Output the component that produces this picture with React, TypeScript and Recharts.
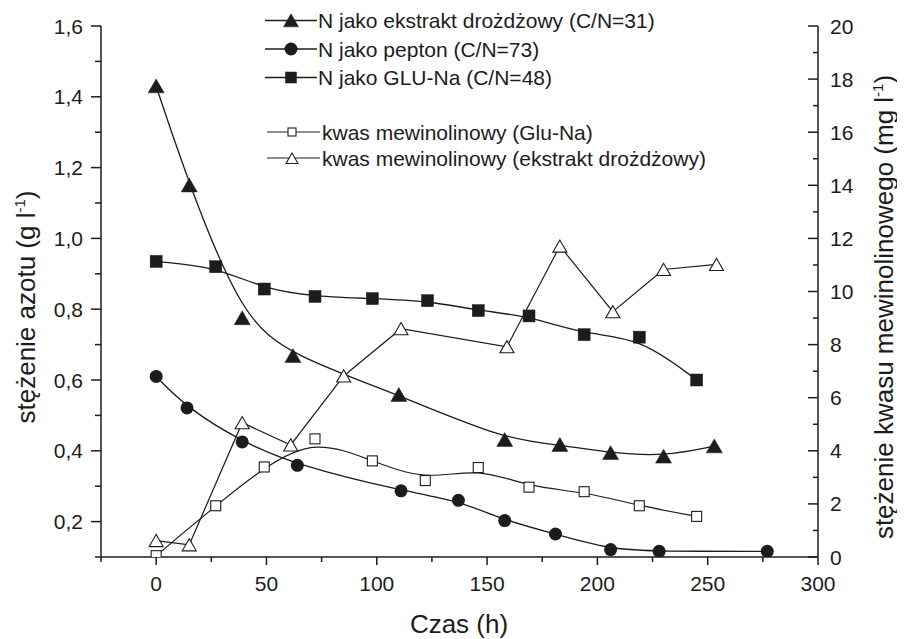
import React from 'react';
import { LineChart, Line, XAxis, YAxis, Legend, Label } from 'recharts';

const FONT = '"Liberation Sans", Arial, Helvetica, sans-serif';
const INK = '#1c1c1c';

// time points (h) and nitrogen concentration (g/l), left axis
const ekstraktT = [0, 15, 39, 62, 110, 158, 183, 206, 230, 253];
const ekstraktN = [1.43, 1.15, 0.775, 0.668, 0.558, 0.431, 0.417, 0.394, 0.384, 0.413];

const peptonT = [0, 14, 39, 64, 111, 137, 158, 181, 206, 228, 277];
const peptonN = [0.61, 0.521, 0.425, 0.359, 0.287, 0.26, 0.203, 0.165, 0.121, 0.116, 0.116];

const gluT = [0, 27, 49, 72, 98, 123, 146, 169, 194, 219, 245];
const gluN = [0.935, 0.92, 0.857, 0.836, 0.83, 0.824, 0.796, 0.781, 0.728, 0.721, 0.6];

// mevinolinic acid (mg/l), right axis
const kwasGluT = [0, 27, 49, 72, 98, 122, 146, 169, 194, 219, 245];
const kwasGlu = [0.05, 1.93, 3.39, 4.45, 3.62, 2.88, 3.37, 2.63, 2.46, 1.93, 1.53];

const kwasEkstraktT = [0, 15, 39, 61, 85, 111, 159, 183, 207, 230, 254];
const kwasEkstrakt = [0.62, 0.46, 5.06, 4.22, 6.82, 8.6, 7.92, 11.71, 9.24, 10.83, 11.02];

const seriesNames = [
  'N jako ekstrakt drożdżowy (C/N=31)',
  'N jako pepton (C/N=73)',
  'N jako GLU-Na (C/N=48)',
  'kwas mewinolinowy (Glu-Na)',
  'kwas mewinolinowy (ekstrakt drożdżowy)',
];

const xTicks = [-25, 0, 25, 50, 75, 100, 125, 150, 175, 200, 225, 250, 275, 300];
const leftTicks = [0.1, 0.2, 0.3, 0.4, 0.5, 0.6, 0.7, 0.8, 0.9, 1.0, 1.1, 1.2, 1.3, 1.4, 1.5, 1.6];
const rightTicks = [0, 1, 2, 3, 4, 5, 6, 7, 8, 9, 10, 11, 12, 13, 14, 15, 16, 17, 18, 19, 20];

const toPoints = (ts: number[], vs: number[]) => ts.map((t, i) => ({ t, v: vs[i] }));

const textStyle = { fontFamily: FONT, fill: INK };

// marker shapes
const Tri = ({ cx, cy, w, open }: { cx: number; cy: number; w: number; open?: boolean }) => {
  const h = w * 0.87;
  const pts = `${cx},${cy - (h * 2) / 3} ${cx - w / 2},${cy + h / 3} ${cx + w / 2},${cy + h / 3}`;
  return <polygon points={pts} fill={open ? '#fff' : INK} stroke={INK} strokeWidth={open ? 1.1 : 0.5} />;
};
const Sq = ({ cx, cy, s, open }: { cx: number; cy: number; s: number; open?: boolean }) => (
  <rect x={cx - s / 2} y={cy - s / 2} width={s} height={s} fill={open ? '#fff' : INK} stroke={INK} strokeWidth={open ? 1.1 : 0.5} />
);
const Dot = ({ cx, cy, r }: { cx: number; cy: number; r: number }) => <circle cx={cx} cy={cy} r={r} fill={INK} />;

const markers = [
  (cx: number, cy: number, legend?: boolean) => <Tri cx={cx} cy={cy + 2} w={legend ? 15 : 16} />,
  (cx: number, cy: number) => <Dot cx={cx} cy={cy} r={6.5} />,
  (cx: number, cy: number, legend?: boolean) => <Sq cx={cx} cy={cy} s={legend ? 11 : 12} />,
  (cx: number, cy: number, legend?: boolean) => <Sq cx={cx} cy={cy} s={legend ? 8 : 10} open />,
  (cx: number, cy: number, legend?: boolean) => <Tri cx={cx} cy={cy + 2} w={legend ? 12 : 14} open />,
];

const dotFor = (i: number) => (p: any) =>
  p.cx == null ? <g key={p.index} /> : <g key={p.index}>{markers[i](p.cx, p.cy)}</g>;

const XTick = ({ x, y, payload }: any) => {
  const v = payload.value;
  const major = v % 50 === 0;
  return (
    <g>
      <line x1={x} y1={y} x2={x} y2={y + (major ? 8 : 5)} stroke={INK} strokeWidth={1.5} />
      {major && v >= 0 && (
        <text x={x} y={y + 34} textAnchor="middle" fontSize={21} style={textStyle}>
          {v}
        </text>
      )}
    </g>
  );
};

const LeftTick = ({ x, y, payload }: any) => {
  const v = payload.value;
  const major = Math.round(v * 10) % 2 === 0;
  return (
    <g>
      <line x1={x} y1={y} x2={x - (major ? 10 : 6)} y2={y} stroke={INK} strokeWidth={1.5} />
      {major && (
        <text x={x - 18} y={y + 7.5} textAnchor="end" fontSize={21} style={textStyle}>
          {v.toFixed(1).replace('.', ',')}
        </text>
      )}
    </g>
  );
};

const RightTick = ({ x, y, payload }: any) => {
  const v = payload.value;
  const major = v % 2 === 0;
  return (
    <g>
      <line x1={x} y1={y} x2={x - (major ? 10 : 5)} y2={y} stroke={INK} strokeWidth={1.5} />
      {major && (
        <text x={x + 12} y={y + 7.5} textAnchor="start" fontSize={21} style={textStyle}>
          {v}
        </text>
      )}
    </g>
  );
};

const RotatedTitle = ({ x, y, text }: { x: number; y: number; text: string }) => (
  <text x={x} y={y} transform={`rotate(-90, ${x}, ${y})`} textAnchor="middle" fontSize={26} style={textStyle}>
    <tspan>{text}</tspan>
    <tspan dy={-10} fontSize={15}>-1</tspan>
    <tspan dy={10}>)</tspan>
  </text>
);

// legend rows: line y, text baseline y, text x
const legendRows = [
  { ly: 12.5, ty: 20, tx: 68, x1: 15, x2: 67, mx: 41, w: 1.4 },
  { ly: 41, ty: 48.5, tx: 68, x1: 15, x2: 67, mx: 41, w: 1.4 },
  { ly: 69.5, ty: 77, tx: 68, x1: 15, x2: 67, mx: 41, w: 1.4 },
  { ly: 124, ty: 131.5, tx: 72, x1: 17, x2: 70, mx: 42, w: 1 },
  { ly: 150, ty: 157.5, tx: 72, x1: 17, x2: 70, mx: 42, w: 1 },
];

const LegendBox = () => (
  <svg width={500} height={170} style={{ display: 'block', overflow: 'visible' }}>
    {seriesNames.map((name, i) => {
      const r = legendRows[i];
      return (
        <g key={name}>
          <line x1={r.x1} y1={r.ly} x2={r.x2} y2={r.ly} stroke={INK} strokeWidth={r.w} />
          {markers[i](r.mx, r.ly, true)}
          <text x={r.tx} y={r.ty} fontSize={21} style={textStyle}>
            {name}
          </text>
        </g>
      );
    })}
  </svg>
);

export default function App() {
  return (
    <LineChart width={897} height={631} margin={{ top: 18, right: 0, bottom: 0, left: 0 }}>
      <XAxis
        dataKey="t"
        type="number"
        domain={[-25, 300]}
        ticks={xTicks}
        interval={0}
        allowDataOverflow
        height={82}
        tickSize={0}
        tickMargin={0}
        tickLine={false}
        tick={<XTick />}
        axisLine={{ stroke: INK, strokeWidth: 1.5 }}
      >
        <Label
          content={() => (
            <text x={451} y={625} textAnchor="middle" fontSize={26} style={textStyle}>
              Czas (h)
            </text>
          )}
        />
      </XAxis>
      <YAxis
        yAxisId="left"
        type="number"
        domain={[0.1, 1.6]}
        ticks={leftTicks}
        interval={0}
        allowDataOverflow
        width={93}
        tickSize={0}
        tickMargin={0}
        tickLine={false}
        tick={<LeftTick />}
        axisLine={{ stroke: INK, strokeWidth: 1.5 }}
      >
        <Label content={() => <RotatedTitle x={27} y={299} text="stężenie azotu (g l" />} />
      </YAxis>
      <YAxis
        yAxisId="right"
        orientation="right"
        type="number"
        domain={[0, 20]}
        ticks={rightTicks}
        interval={0}
        allowDataOverflow
        width={87}
        tickSize={0}
        tickMargin={0}
        tickLine={false}
        tick={<RightTick />}
        axisLine={{ stroke: INK, strokeWidth: 1.5 }}
      >
        <Label content={() => <RotatedTitle x={885} y={299} text="stężenie kwasu mewinolinowego (mg l" />} />
      </YAxis>
      <Legend
        layout="vertical"
        align="center"
        verticalAlign="middle"
        content={() => <LegendBox />}
        wrapperStyle={{ position: 'absolute', left: 242, top: 0, width: 500, height: 170 }}
      />
      <Line
        yAxisId="right"
        data={toPoints(kwasEkstraktT, kwasEkstrakt)}
        dataKey="v"
        name={seriesNames[4]}
        type="linear"
        stroke={INK}
        strokeWidth={1.2}
        dot={dotFor(4)}
        activeDot={false}
        isAnimationActive={false}
      />
      <Line
        yAxisId="right"
        data={toPoints(kwasGluT, kwasGlu)}
        dataKey="v"
        name={seriesNames[3]}
        type="basis"
        stroke={INK}
        strokeWidth={1.2}
        dot={dotFor(3)}
        activeDot={false}
        isAnimationActive={false}
      />
      <Line
        yAxisId="left"
        data={toPoints(gluT, gluN)}
        dataKey="v"
        name={seriesNames[2]}
        type="basis"
        stroke={INK}
        strokeWidth={1.3}
        dot={dotFor(2)}
        activeDot={false}
        isAnimationActive={false}
      />
      <Line
        yAxisId="left"
        data={toPoints(peptonT, peptonN)}
        dataKey="v"
        name={seriesNames[1]}
        type="basis"
        stroke={INK}
        strokeWidth={1.3}
        dot={dotFor(1)}
        activeDot={false}
        isAnimationActive={false}
      />
      <Line
        yAxisId="left"
        data={toPoints(ekstraktT, ekstraktN)}
        dataKey="v"
        name={seriesNames[0]}
        type="basis"
        stroke={INK}
        strokeWidth={1.3}
        dot={dotFor(0)}
        activeDot={false}
        isAnimationActive={false}
      />
    </LineChart>
  );
}
